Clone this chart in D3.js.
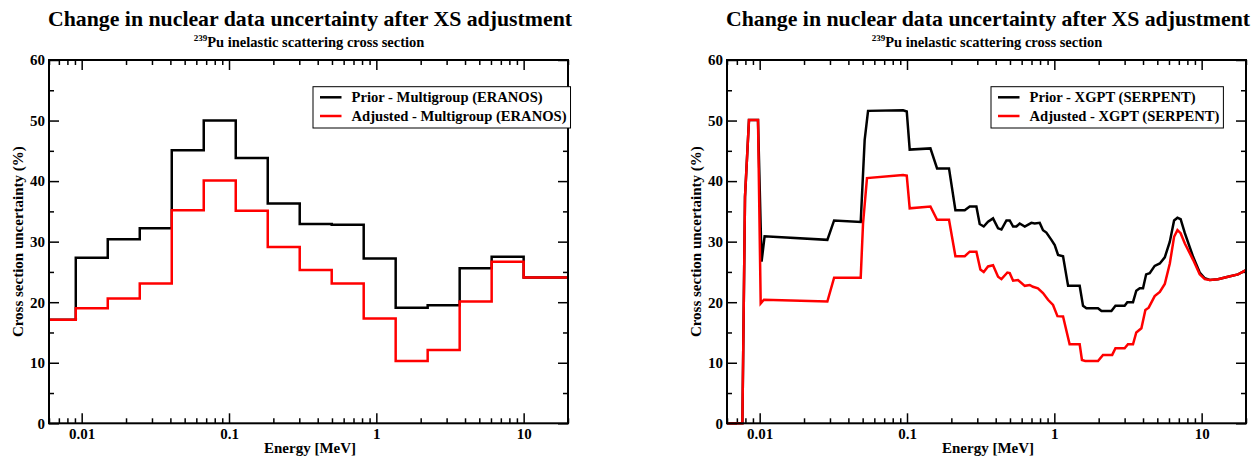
<!DOCTYPE html>
<html><head><meta charset="utf-8">
<script src="https://cdn.jsdelivr.net/npm/d3@7"></script>
<style>
body{margin:0;background:#fff}
text{font-family:"Liberation Serif","Times New Roman",serif;font-weight:bold;fill:#000}
</style>
</head><body>
<svg id="chart" width="1258" height="460"></svg>
<script>
// ---------------- data ----------------
const titleText = "Change in nuclear data uncertainty after XS adjustment";
const subtitleSup = "239";
const subtitleText = "Pu inelastic scattering cross section";
const yLabelText = "Cross section uncertainty (%)";
const xLabelText = "Energy [MeV]";
const xDomain = [0.006, 20];
const yDomain = [0, 60];
const xMajorTicks = [0.01, 0.1, 1, 10];
const xTickLabels = ["0.01", "0.1", "1", "10"];
const yMajorTicks = [0, 10, 20, 30, 40, 50, 60];
const yMinorTicks = [5, 15, 25, 35, 45, 55];

// ERANOS 33-group boundaries (MeV), low to high
const eranosBounds = [0.005531, 0.009119, 0.01503, 0.02479, 0.04087, 0.06738, 0.1111, 0.1832, 0.3020, 0.4979, 0.8209, 1.353, 2.231, 3.679, 6.065, 10.0, 19.64, 20];
const eranosPrior    = [17.1, 27.35, 30.4, 32.2, 45.1, 50.0, 43.8, 36.3, 32.9, 32.8, 27.2, 19.1, 19.5, 25.6, 27.5, 24.1, 24.1];
const eranosAdjusted = [17.1, 19.0, 20.6, 23.1, 35.2, 40.1, 35.1, 29.1, 25.3, 23.1, 17.3, 10.3, 12.1, 20.1, 26.7, 24.1, 24.1];
const legendLeft = ["Prior - Multigroup (ERANOS)", "Adjusted - Multigroup (ERANOS)"];

// XGPT (SERPENT) continuous curves
const xgptPriorE = [0.006, 0.00763, 0.00795, 0.00846, 0.00974, 0.0103, 0.0108, 0.0288, 0.0320, 0.0485, 0.0516, 0.0544, 0.094, 0.0996, 0.1043, 0.1442, 0.16, 0.1928, 0.2131, 0.2465, 0.2665, 0.2958, 0.3115, 0.3317, 0.3548, 0.3837, 0.415, 0.4375, 0.473, 0.498, 0.525, 0.553, 0.582, 0.63, 0.699, 0.736, 0.796, 0.838, 0.883, 0.955, 1.006, 1.06, 1.146, 1.24, 1.486, 1.566, 1.651, 1.979, 2.09, 2.44, 2.6, 3.0, 3.13, 3.42, 3.6, 3.8, 4.0, 4.2, 4.44, 4.8, 5.2, 5.62, 6.08, 6.5, 6.85, 7.2, 7.69, 8.75, 9.7, 10.5, 11.35, 12.9, 15.1, 17.66, 20];
const xgptPriorU = [0, 0, 37.4, 50.1, 50.1, 26.7, 30.9, 30.3, 33.5, 33.25, 46.8, 51.6, 51.7, 51.5, 45.2, 45.4, 42.1, 42.1, 35.2, 35.2, 35.8, 35.8, 32.9, 32.5, 33.3, 33.85, 32.2, 32.0, 33.5, 33.5, 32.5, 32.5, 33.0, 32.5, 33.1, 33.0, 33.1, 31.9, 31.5, 30.3, 29.45, 27.8, 27.6, 22.7, 22.7, 19.4, 19.0, 19.0, 18.55, 18.55, 19.4, 19.4, 20.0, 20.0, 21.9, 22.3, 22.3, 24.6, 24.8, 26.0, 26.4, 27.4, 30.0, 33.5, 33.95, 33.7, 31.4, 27.5, 24.9, 23.95, 23.67, 23.8, 24.2, 24.6, 25.3];
const xgptAdjE = [0.006, 0.00763, 0.00795, 0.00846, 0.00974, 0.01016, 0.01069, 0.0288, 0.0320, 0.0485, 0.0503, 0.0535, 0.094, 0.0996, 0.1043, 0.1442, 0.16, 0.1928, 0.2131, 0.2465, 0.2665, 0.2958, 0.3148, 0.3317, 0.3548, 0.3837, 0.415, 0.4375, 0.48, 0.498, 0.525, 0.567, 0.63, 0.681, 0.716, 0.774, 0.838, 0.906, 0.98, 1.05, 1.146, 1.27, 1.486, 1.54, 1.62, 1.979, 2.14, 2.47, 2.6, 3.0, 3.16, 3.42, 3.6, 3.9, 4.15, 4.37, 4.8, 5.2, 5.62, 6.08, 6.5, 6.85, 7.2, 7.69, 8.75, 9.7, 10.5, 11.35, 12.9, 15.1, 17.66, 20];
const xgptAdjU = [0, 0, 37.4, 50.1, 50.1, 19.8, 20.4, 20.1, 24.05, 24.05, 33.0, 40.5, 41.0, 40.9, 35.5, 35.8, 33.6, 33.6, 27.6, 27.6, 28.35, 28.35, 25.4, 25.0, 25.9, 26.1, 24.2, 23.8, 24.9, 24.8, 23.55, 23.65, 22.7, 22.85, 22.55, 22.3, 21.5, 20.4, 19.55, 17.7, 17.65, 13.05, 13.05, 10.45, 10.3, 10.3, 11.3, 11.3, 12.4, 12.4, 13.05, 13.05, 15.0, 15.7, 18.7, 19.1, 21.0, 21.7, 23.0, 26.4, 30.8, 31.9, 31.4, 29.7, 27.0, 24.6, 23.8, 23.67, 23.8, 24.2, 24.6, 25.3];
const legendRight = ["Prior - XGPT (SERPENT)", "Adjusted - XGPT (SERPENT)"];

const seriesColors = ["#000000", "#ff0000"];

// ---------------- drawing ----------------
const svg = d3.select("#chart");

function drawPanel(id, left, series, legendLabels, stepped) {
  const top = 60, width = 519, height = 363.3;
  const g = svg.append("g").attr("transform", `translate(${left},${top})`);
  const x = d3.scaleLog().domain(xDomain).range([0, width]);
  const y = d3.scaleLinear().domain(yDomain).range([height, 0]);

  svg.append("defs").append("clipPath").attr("id", "clip" + id)
    .append("rect").attr("x", 0).attr("y", -5).attr("width", width).attr("height", height + 10);

  const xMinor = x.ticks().filter(v => !xMajorTicks.some(m => Math.abs(m - v) / m < 1e-6));

  g.append("g").attr("transform", `translate(0,${height})`)
    .call(d3.axisBottom(x).tickValues(xMajorTicks).tickFormat((d, i) => xTickLabels[i])
      .tickSizeInner(-10).tickSizeOuter(0).tickPadding(5));
  g.append("g").attr("transform", `translate(0,${height})`)
    .call(d3.axisBottom(x).tickValues(xMinor).tickFormat("").tickSizeInner(-5).tickSizeOuter(0));
  g.append("g").call(d3.axisTop(x).tickValues(xMajorTicks).tickFormat("").tickSizeInner(-10).tickSizeOuter(0));
  g.append("g").call(d3.axisTop(x).tickValues(xMinor).tickFormat("").tickSizeInner(-5).tickSizeOuter(0));

  g.append("g")
    .call(d3.axisLeft(y).tickValues(yMajorTicks).tickFormat(d3.format("d"))
      .tickSizeInner(-10).tickSizeOuter(0).tickPadding(4));
  g.append("g").call(d3.axisLeft(y).tickValues(yMinorTicks).tickFormat("").tickSizeInner(-5).tickSizeOuter(0));
  g.append("g").attr("transform", `translate(${width},0)`)
    .call(d3.axisRight(y).tickValues(yMajorTicks).tickFormat("").tickSizeInner(-10).tickSizeOuter(0));
  g.append("g").attr("transform", `translate(${width},0)`)
    .call(d3.axisRight(y).tickValues(yMinorTicks).tickFormat("").tickSizeInner(-5).tickSizeOuter(0));

  g.selectAll(".domain").remove();
  g.selectAll(".tick line").attr("stroke", "#000").attr("stroke-width", 1.5);
  g.selectAll(".tick text").style("font-size", "15px").style("font-family", '"Liberation Serif",serif').style("font-weight", "bold");

  const lines = g.append("g").attr("clip-path", `url(#clip${id})`);
  series.forEach((s, i) => {
    const line = d3.line().x(d => x(d[0])).y(d => y(d[1]));
    if (stepped) line.curve(d3.curveStepAfter);
    lines.append("path").datum(s).attr("d", line)
      .attr("fill", "none").attr("stroke", seriesColors[i]).attr("stroke-width", 2.5)
      .attr("stroke-linejoin", "miter");
  });

  g.append("rect").attr("width", width).attr("height", height)
    .attr("fill", "none").attr("stroke", "#000").attr("stroke-width", 2);

  const lg = g.append("g").attr("transform", "translate(264,26.7)");
  const box = lg.append("rect").attr("fill", "#fff").attr("stroke", "#000").attr("stroke-width", 1);
  let maxW = 0;
  legendLabels.forEach((lab, i) => {
    const yy = 10.6 + i * 18.7;
    lg.append("line").attr("x1", 7).attr("x2", 28.5).attr("y1", yy).attr("y2", yy)
      .attr("stroke", seriesColors[i]).attr("stroke-width", 2.5);
    const t = lg.append("text").attr("x", 38.5).attr("y", yy + 5).style("font-size", "14.6px").text(lab);
    maxW = Math.max(maxW, t.node().getComputedTextLength());
  });
  box.attr("width", 38.5 + maxW + 4).attr("height", 41.3);

  const cx = width / 2;
  g.append("text").attr("x", cx + 1.5).attr("y", 25.5 - top).attr("text-anchor", "middle")
    .style("font-size", "21.8px").text(titleText);
  const st = g.append("text").attr("x", cx + 0.5).attr("y", 47 - top).attr("text-anchor", "middle")
    .style("font-size", "14.5px");
  st.append("tspan").attr("dy", "-6.5").style("font-size", "9px").text(subtitleSup);
  st.append("tspan").attr("dy", "6.5").text(subtitleText);

  g.append("text").attr("transform", `translate(${-26},${height / 2}) rotate(-90)`)
    .attr("text-anchor", "middle").style("font-size", "15px").text(yLabelText);
  g.append("text").attr("x", cx + 1.5).attr("y", 453 - top).attr("text-anchor", "middle")
    .style("font-size", "15px").text(xLabelText);
}

const leftSeries = [
  eranosBounds.map((e, i) => [e, eranosPrior[Math.min(i, eranosPrior.length - 1)]]),
  eranosBounds.map((e, i) => [e, eranosAdjusted[Math.min(i, eranosAdjusted.length - 1)]])
];
const rightSeries = [
  d3.zip(xgptPriorE, xgptPriorU),
  d3.zip(xgptAdjE, xgptAdjU)
];
drawPanel("L", 49, leftSeries, legendLeft, true);
drawPanel("R", 727, rightSeries, legendRight, false);
</script>
</body></html>
